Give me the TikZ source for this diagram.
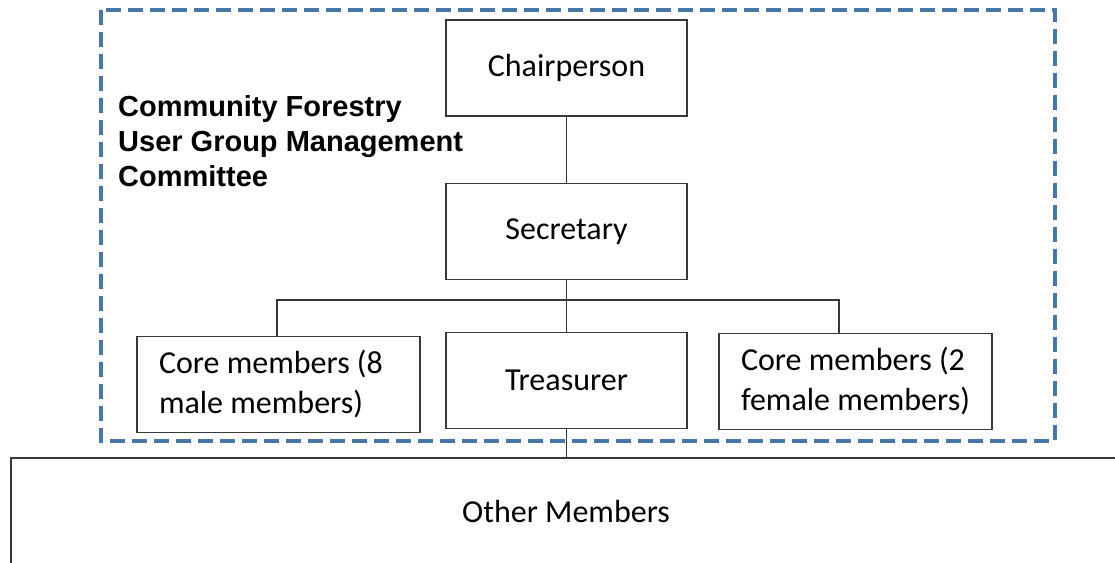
\documentclass[tikz,border=0pt]{standalone}
\usepackage{fontspec}
\setmainfont{Carlito}
\newfontfamily\headfont{Liberation Sans}
\usetikzlibrary{calc,positioning}
\definecolor{linegray}{RGB}{56,56,56}
\definecolor{frameblue}{RGB}{71,118,168}
\tikzset{%
  office/.style={rectangle,draw=linegray,line width=1.5pt,minimum width=241pt,
    minimum height=96pt,inner sep=0pt,align=left,
    font=\fontsize{32}{40}\selectfont},
  link/.style={draw=linegray,line width=1.5pt},
  committee/.style={draw=frameblue,line width=4.5pt,dash pattern=on 15pt off 7pt},
  heading/.style={inner sep=0pt,align=left,
    font=\headfont\bfseries\fontsize{29}{35}\selectfont}
}

\begin{document}
\begin{tikzpicture}[x=1pt,y=-1pt]
  \useasboundingbox (0,0) rectangle (1115,562);
  \clip (0,0) rectangle (1115,562);

  % management committee frame
  \draw[committee] (101,10) rectangle (1055,441);
  \node[heading,anchor=north west] (cfug) at (118,95)
    {Community Forestry\\User Group Management\\Committee};

  \node[office] (chair) at (566.5,68) {Chairperson};
  \node[office] (secy) at (566.5,231.5) {Secretary};
  \node[office] (treas) at (566.5,380.5) {Treasurer};
  \node[office,minimum width=283pt,text width=239pt,align=flush left] (coreM) at (278.5,384.5) {Core members (8\\male members)};
  \node[office,minimum width=273pt] (coreF) at (855.5,381.5) {Core members (2\\female members)};
  \node[office,minimum width=1110pt,minimum height=106pt] (others) at (566,511) {Other Members};

  % connectors
  \coordinate (busL) at (277,300);
  \coordinate (busR) at (839,300);
  \draw[link] (chair) -- (secy);
  \draw[link] (secy) -- (treas);
  \draw[link] (busL |- coreM.north) -- (busL) -- (busR) -- (busR |- coreF.north);
  \draw[link] (treas) -- (treas |- others.north);
\end{tikzpicture}
\end{document}
